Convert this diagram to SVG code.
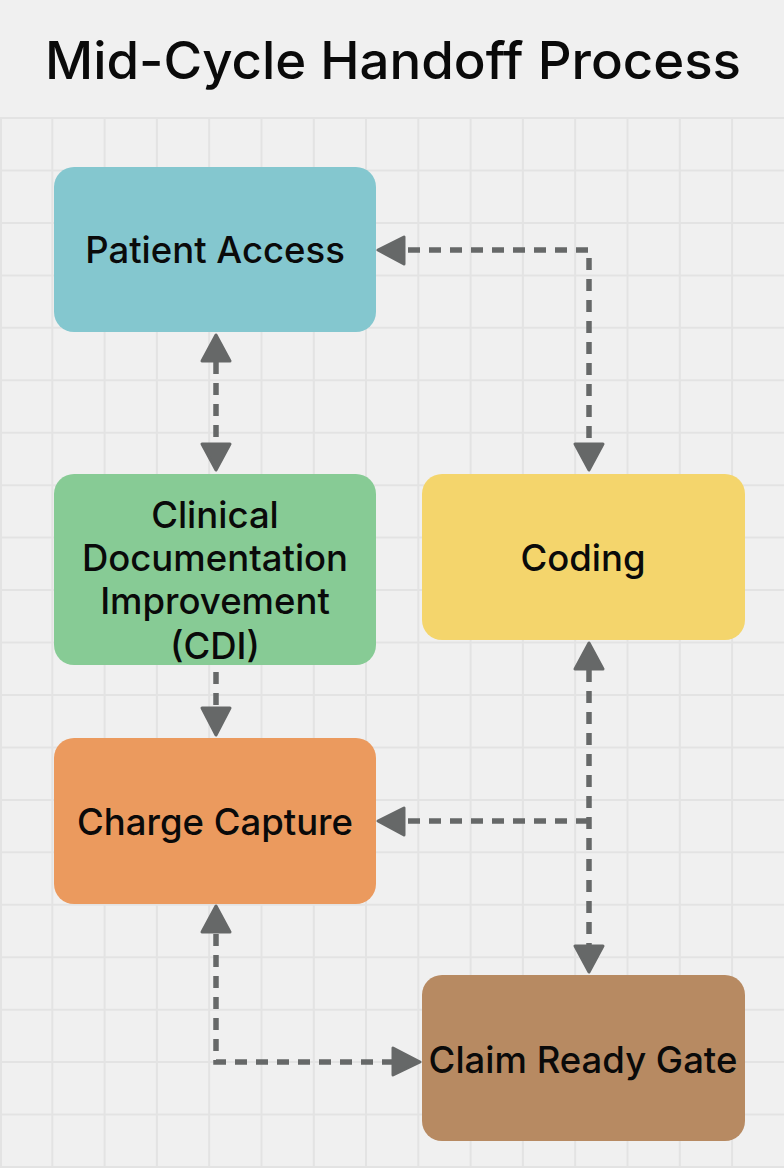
<svg xmlns="http://www.w3.org/2000/svg" width="784" height="1168" viewBox="0 0 784 1168">
<style>
.g{stroke:#e3e3e3;stroke-width:2;fill:none}
.n{font-family:Inter,"Liberation Sans",sans-serif;font-size:36.5px;font-weight:500;fill:#0a0a0a;text-anchor:middle}
.c{stroke:#666868;stroke-width:5.5;stroke-dasharray:12 9;fill:none}
.a{fill:#666868;stroke:#666868;stroke-width:3;stroke-linejoin:round}
</style>
<rect width="784" height="1168" fill="#f0f0f0"/>
<g id="grid">
<path class="g" d="M1 118V1168M52.3 118V1168M104.6 118V1168M156.9 118V1168M209.2 118V1168M261.5 118V1168M313.8 118V1168M366 118V1168M418.3 118V1168M470.6 118V1168M522.9 118V1168M575.2 118V1168M627.5 118V1168M679.8 118V1168M732.1 118V1168"/>
<path class="g" d="M0 118H784M0 170.5H784M0 222.9H784M0 275.4H784M0 327.8H784M0 380.3H784M0 432.7H784M0 485.2H784M0 537.6H784M0 590H784M0 642.5H784M0 695H784M0 747.4H784M0 799.9H784M0 852.3H784M0 904.8H784M0 957.2H784M0 1009.7H784M0 1062.1H784M0 1114.6H784M0 1167H784"/>
</g>
<text id="title" x="393" y="79" font-family="Inter,'Liberation Sans',sans-serif" font-size="52" font-weight="500" fill="#0a0a0a" text-anchor="middle" textLength="696" lengthAdjust="spacingAndGlyphs">Mid-Cycle Handoff Process</text>
<g id="connectors">
<path class="c" d="M408 250H589V445"/>
<path class="c" d="M216 362V445"/>
<path class="c" d="M216 672V708"/>
<path class="c" d="M589 670V945"/>
<path class="c" d="M408 821H589"/>
<path class="c" d="M216 934V1062H393"/>
<path class="a" d="M378 250L404 237V264Z"/>
<path class="a" d="M589 470L575 444H603Z"/>
<path class="a" d="M216 335L202 361H230Z"/>
<path class="a" d="M216 470L202 444H230Z"/>
<path class="a" d="M216 735L202 708H230Z"/>
<path class="a" d="M589 643L575 669H603Z"/>
<path class="a" d="M589 972L575 946H603Z"/>
<path class="a" d="M378 821L404 808V835Z"/>
<path class="a" d="M216 906L202 932H230Z"/>
<path class="a" d="M420 1062L393 1048V1075Z"/>
</g>
<g id="patient-access">
<rect x="54" y="167" width="322" height="165" rx="20" fill="#84c7cf"/>
<text class="n" x="215" y="263">Patient Access</text>
</g>
<g id="cdi">
<rect x="54" y="474" width="322" height="191" rx="20" fill="#87cb95"/>
<text class="n" x="215" y="528">Clinical</text>
<text class="n" x="215" y="571">Documentation</text>
<text class="n" x="215" y="614">Improvement</text>
<text class="n" x="215" y="659">(CDI)</text>
</g>
<g id="coding">
<rect x="422" y="474" width="323" height="166" rx="20" fill="#f4d56c"/>
<text class="n" x="583" y="571">Coding</text>
</g>
<g id="charge-capture">
<rect x="54" y="738" width="322" height="166" rx="20" fill="#eb9a5e"/>
<text class="n" x="215" y="835">Charge Capture</text>
</g>
<g id="claim-ready-gate">
<rect x="422" y="975" width="323" height="166" rx="20" fill="#b78a62"/>
<text class="n" x="583" y="1073">Claim Ready Gate</text>
</g>
</svg>
